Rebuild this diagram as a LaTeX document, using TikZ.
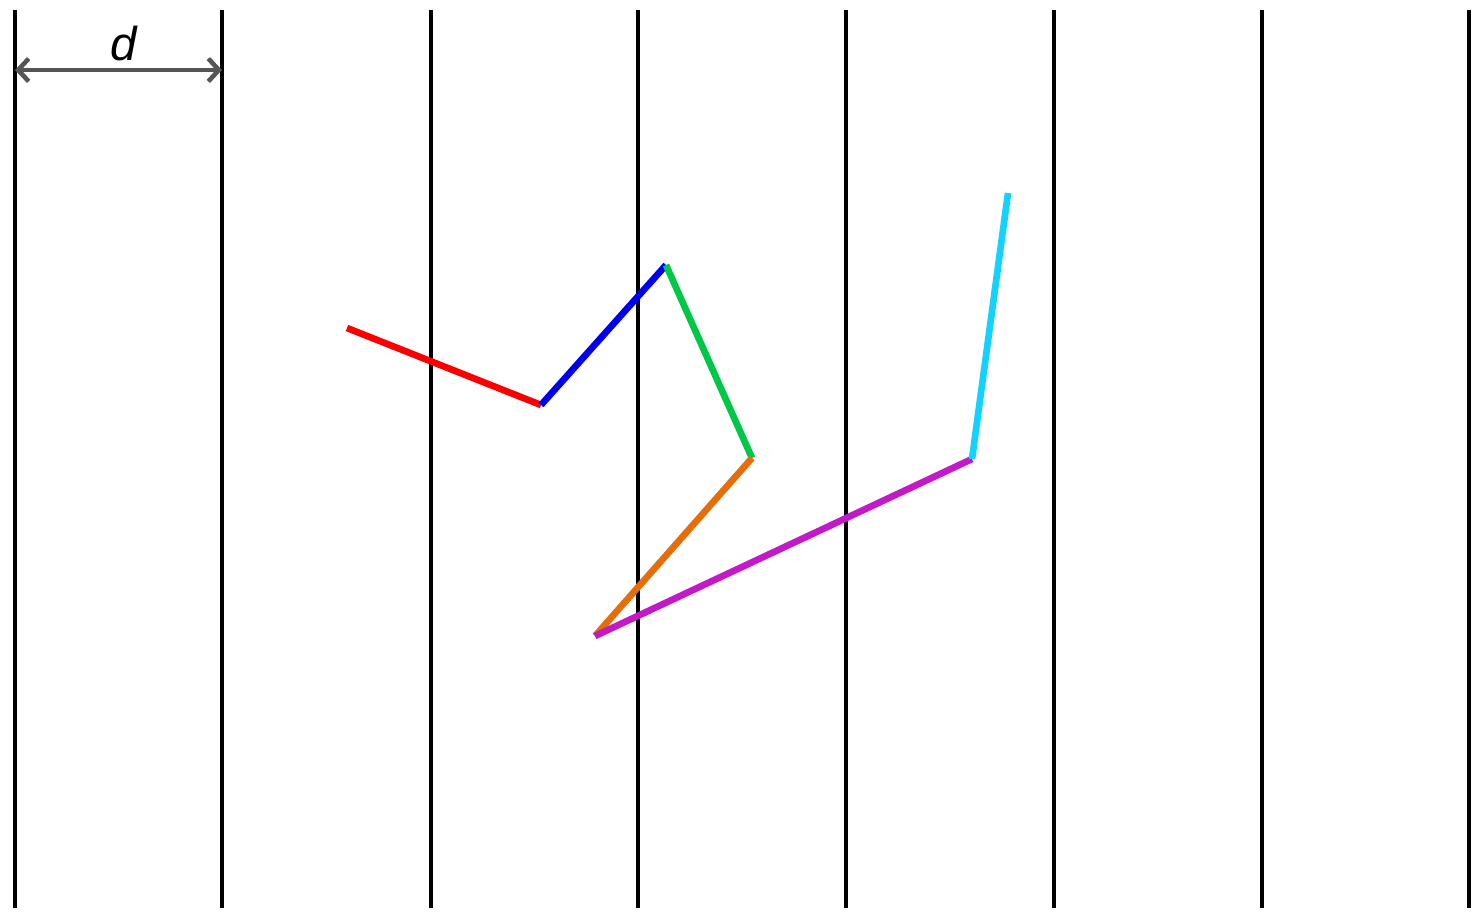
\documentclass[tikz,border=0pt]{standalone}
\usepackage{fontspec}
\setmainfont{Liberation Sans}
\usepackage{tikz}
\usetikzlibrary{arrows.meta}
\definecolor{segred}{RGB}{250,0,0}
\definecolor{segblue}{RGB}{0,0,240}
\definecolor{seggreen}{RGB}{0,200,70}
\definecolor{segorange}{RGB}{230,110,10}
\definecolor{segmag}{RGB}{195,25,200}
\definecolor{segcyan}{RGB}{20,210,255}
\definecolor{dimgray}{RGB}{85,85,85}

\begin{document}
\begin{tikzpicture}[
  x=0.02cm, y=-0.02cm,
  wall/.style={line width=2.5pt, black},
  seg/.style={line width=3.8pt},
  dimarr/.style={{Straight Barb[length=6pt,width=13pt]}-{Straight Barb[length=6pt,width=13pt]},
                 line width=2.6pt, dimgray, line cap=round},
  lbl/.style={font=\fontsize{27}{30}\selectfont\itshape, inner sep=0pt},
]
\useasboundingbox (0,0) rectangle (1472,913);

%% ---- Parallel lines ----
\foreach \i/\x in {0/15, 1/222, 2/431, 3/638, 4/846, 5/1054, 6/1262, 7/1469}{
  \coordinate (t\i) at (\x, 10);
  \coordinate (b\i) at (\x, 908);
  \draw[wall] (t\i) -- (b\i);
}

%% ---- Spacing d ----
\coordinate (da) at (15, 70);
\coordinate (db) at (222, 70);
\draw[dimarr] (da) -- (db);
\node[lbl] (dl) at (124, 44) {d};

%% ---- Chain ----
\coordinate (p0) at (347, 328);
\coordinate (p1) at (541, 405);
\coordinate (p2) at (666, 265);
\coordinate (p3) at (752, 458);
\coordinate (p4) at (595, 636);
\coordinate (p5) at (972, 459);
\coordinate (p6) at (1008, 193);
\draw[seg, segred]    (p0) -- (p1);
\draw[seg, segblue]   (p1) -- (p2);
\draw[seg, seggreen]  (p2) -- (p3);
\draw[seg, segorange] (p3) -- (p4);
\draw[seg, segmag]    (p4) -- (p5);
\draw[seg, segcyan]   (p5) -- (p6);

\end{tikzpicture}
\end{document}
